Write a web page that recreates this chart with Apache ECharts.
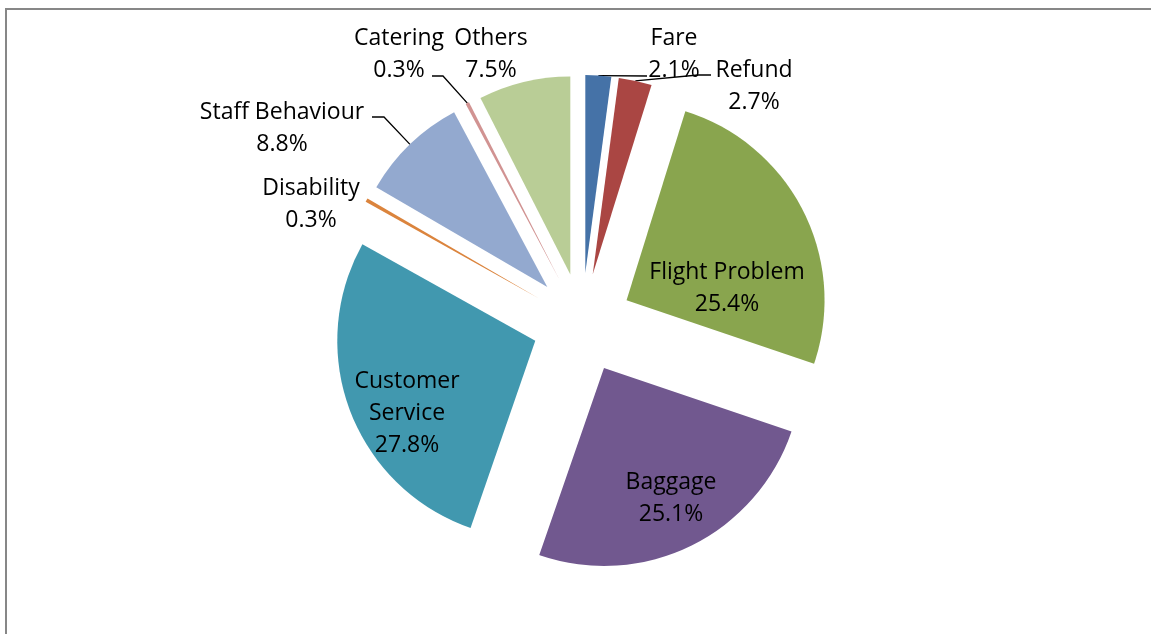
<!DOCTYPE html>
<html>
<head>
<meta charset="utf-8">
<title>Complaint categories</title>
<script src="https://cdn.jsdelivr.net/npm/echarts@6/dist/echarts.min.js"></script>
<style>
html, body { margin: 0; padding: 0; background: #fff; }
#chart { width: 1151px; height: 634px; }
</style>
</head>
<body>
<div id="chart"></div>
<script>
// complaint categories, clockwise from 12 o'clock
const categories = ["Fare", "Refund", "Flight Problem", "Baggage", "Customer Service",
  "Disability", "Staff Behaviour", "Catering", "Others"];
const shares = [2.1, 2.7, 25.4, 25.1, 27.8, 0.3, 8.8, 0.3, 7.5];
const colors = ["#4572A7", "#AA4643", "#89A54E", "#71588F", "#4198AF",
  "#DB843D", "#93A9CF", "#D19392", "#B9CD96"];

// label block centres and leader line elbows (excel puts them by hand)
const labelSpots = {
  "Fare": { x: 674, y: 54, line: [[647, 76]] },
  "Refund": { x: 754, y: 86, line: [[698, 75], [711, 75]] },
  "Flight Problem": { x: 727, y: 288 },
  "Baggage": { x: 671, y: 498 },
  "Customer Service": { x: 407, y: 413 },
  "Disability": { x: 311, y: 204 },
  "Staff Behaviour": { x: 282, y: 128, line: [[384, 117], [372, 117]] },
  "Catering": { x: 399, y: 54, line: [[443, 76], [432, 76]] },
  "Others": { x: 491, y: 54 },
};

const CENTER = [582, 323];
const RADIUS = 198;
const EXPLODE = 50;

const chart = echarts.init(document.getElementById("chart"));

// exploded slices (select state moves each one out along its middle)
const sliceData = categories.map((name, i) => ({
  name: name,
  value: shares[i],
  selected: true,
  itemStyle: { color: colors[i] },
}));

// same pie, not exploded and invisible, only carries the labels
const labelData = categories.map((name, i) => ({
  name: name,
  value: shares[i],
  labelLine: { show: !!labelSpots[name].line },
}));

const option = {
  animation: false,
  graphic: [
    {
      type: "rect",
      shape: { x: 6, y: 9, width: 1200, height: 700 },
      style: { fill: "none", stroke: "#878787", lineWidth: 2 },
      z: -1,
    },
  ],
  series: [
    {
      type: "pie",
      center: CENTER,
      radius: RADIUS,
      startAngle: 90,
      clockwise: true,
      selectedMode: "multiple",
      selectedOffset: EXPLODE,
      silent: true,
      emphasis: { disabled: true },
      itemStyle: { borderWidth: 0 },
      select: { itemStyle: { borderWidth: 0 } },
      label: { show: false },
      labelLine: { show: false },
      data: sliceData,
    },
    {
      type: "pie",
      center: CENTER,
      radius: RADIUS,
      startAngle: 90,
      clockwise: true,
      silent: true,
      avoidLabelOverlap: false,
      emphasis: { disabled: true },
      itemStyle: { color: "rgba(0,0,0,0)", borderWidth: 0 },
      label: {
        show: true,
        position: "outside",
        fontFamily: "Open Sans",
        fontSize: 23,
        lineHeight: 32,
        color: "#000",
        formatter: (p) => p.name.replace("Customer ", "Customer\n") + "\n" + p.value.toFixed(1) + "%",
      },
      labelLine: {
        lineStyle: { color: "#000", width: 1.3 },
      },
      labelLayout: (params) => {
        const spot = labelSpots[categories[params.dataIndex]];
        const out = { x: spot.x, y: spot.y, align: "center", verticalAlign: "middle" };
        if (spot.line && params.labelLinePoints) {
          // push the start out to the exploded slice edge
          const p0 = params.labelLinePoints[0];
          const vx = p0[0] - CENTER[0], vy = p0[1] - CENTER[1];
          const len = Math.sqrt(vx * vx + vy * vy) || 1;
          const start = [p0[0] + EXPLODE * vx / len, p0[1] + EXPLODE * vy / len];
          out.labelLinePoints = [start].concat(spot.line);
        }
        return out;
      },
      data: labelData,
    },
  ],
};

chart.setOption(option);
</script>
</body>
</html>
